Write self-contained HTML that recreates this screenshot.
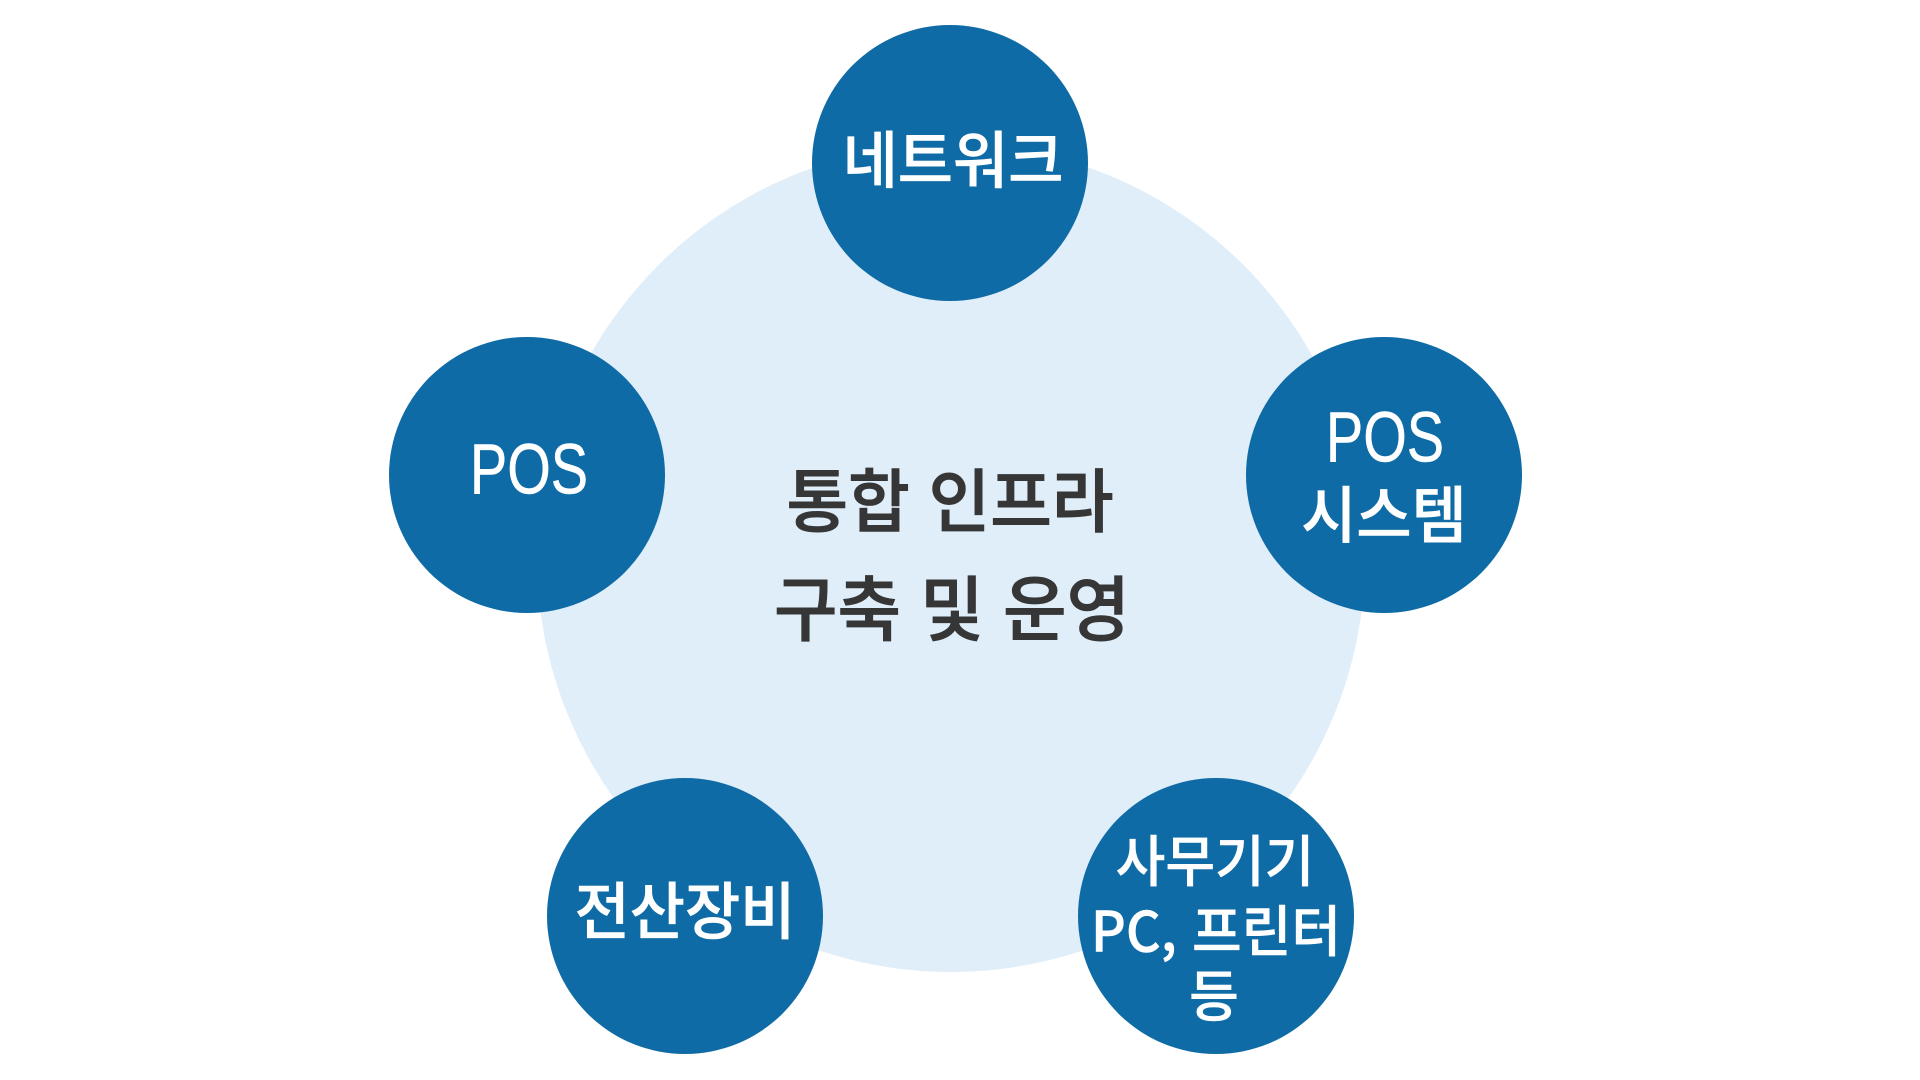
<!DOCTYPE html>
<html lang="ko">
<head>
<meta charset="utf-8">
<style>
html,body{margin:0;padding:0;background:#fff;}
body{width:1920px;height:1080px;overflow:hidden;position:relative;font-family:"Liberation Sans","Noto Sans CJK KR",sans-serif;}
.c{position:absolute;border-radius:50%;}
.big{left:536.5px;top:144px;width:828px;height:828px;background:#e0eefa;}
.n{width:276px;height:276px;background:#0e6ba5;}
.t{position:absolute;white-space:nowrap;text-align:center;transform-origin:top center;transform:translateX(-50%) scaleY(1.03);font-family:"Noto Sans CJK KR",sans-serif;line-height:1;}
.w{color:#fff;font-size:59px;font-weight:500;-webkit-text-stroke:0.6px #fff;}
.d{color:#363636;font-size:67px;font-weight:500;-webkit-text-stroke:0.9px #363636;}
.s{font-size:54px;-webkit-text-stroke:0.5px #fff;}
.l{font-family:"Liberation Sans","Noto Sans CJK KR",sans-serif;font-weight:400;font-size:56px;-webkit-text-stroke:0.4px #fff;transform:translateX(-50%) scaleY(1.27);}
</style>
</head>
<body>
<div class="c big"></div>
<div class="c n" style="left:812px;top:25px"></div>
<div class="c n" style="left:1246px;top:337px"></div>
<div class="c n" style="left:389px;top:337px"></div>
<div class="c n" style="left:1078px;top:778px"></div>
<div class="c n" style="left:547px;top:778px"></div>

<div class="t d" style="left:950px;top:462px">통합 인프라</div>
<div class="t d" style="left:952px;top:569px;font-size:69px">구축 및 운영</div>

<div class="t w" style="left:953px;top:126px;font-size:60px">네트워크</div>
<div class="t w l" style="left:1385px;top:402px">POS</div>
<div class="t w" style="left:1384px;top:481px;font-size:60px">시스템</div>
<div class="t w l" style="left:529px;top:434px">POS</div>
<div class="t w s" style="left:1215px;top:830px">사무기기</div>
<div class="t w s" style="left:1216px;top:900px">PC, 프린터</div>
<div class="t w s" style="left:1214px;top:965px">등</div>
<div class="t w" style="left:685px;top:877px;font-size:60px">전산장비</div>
</body>
</html>
